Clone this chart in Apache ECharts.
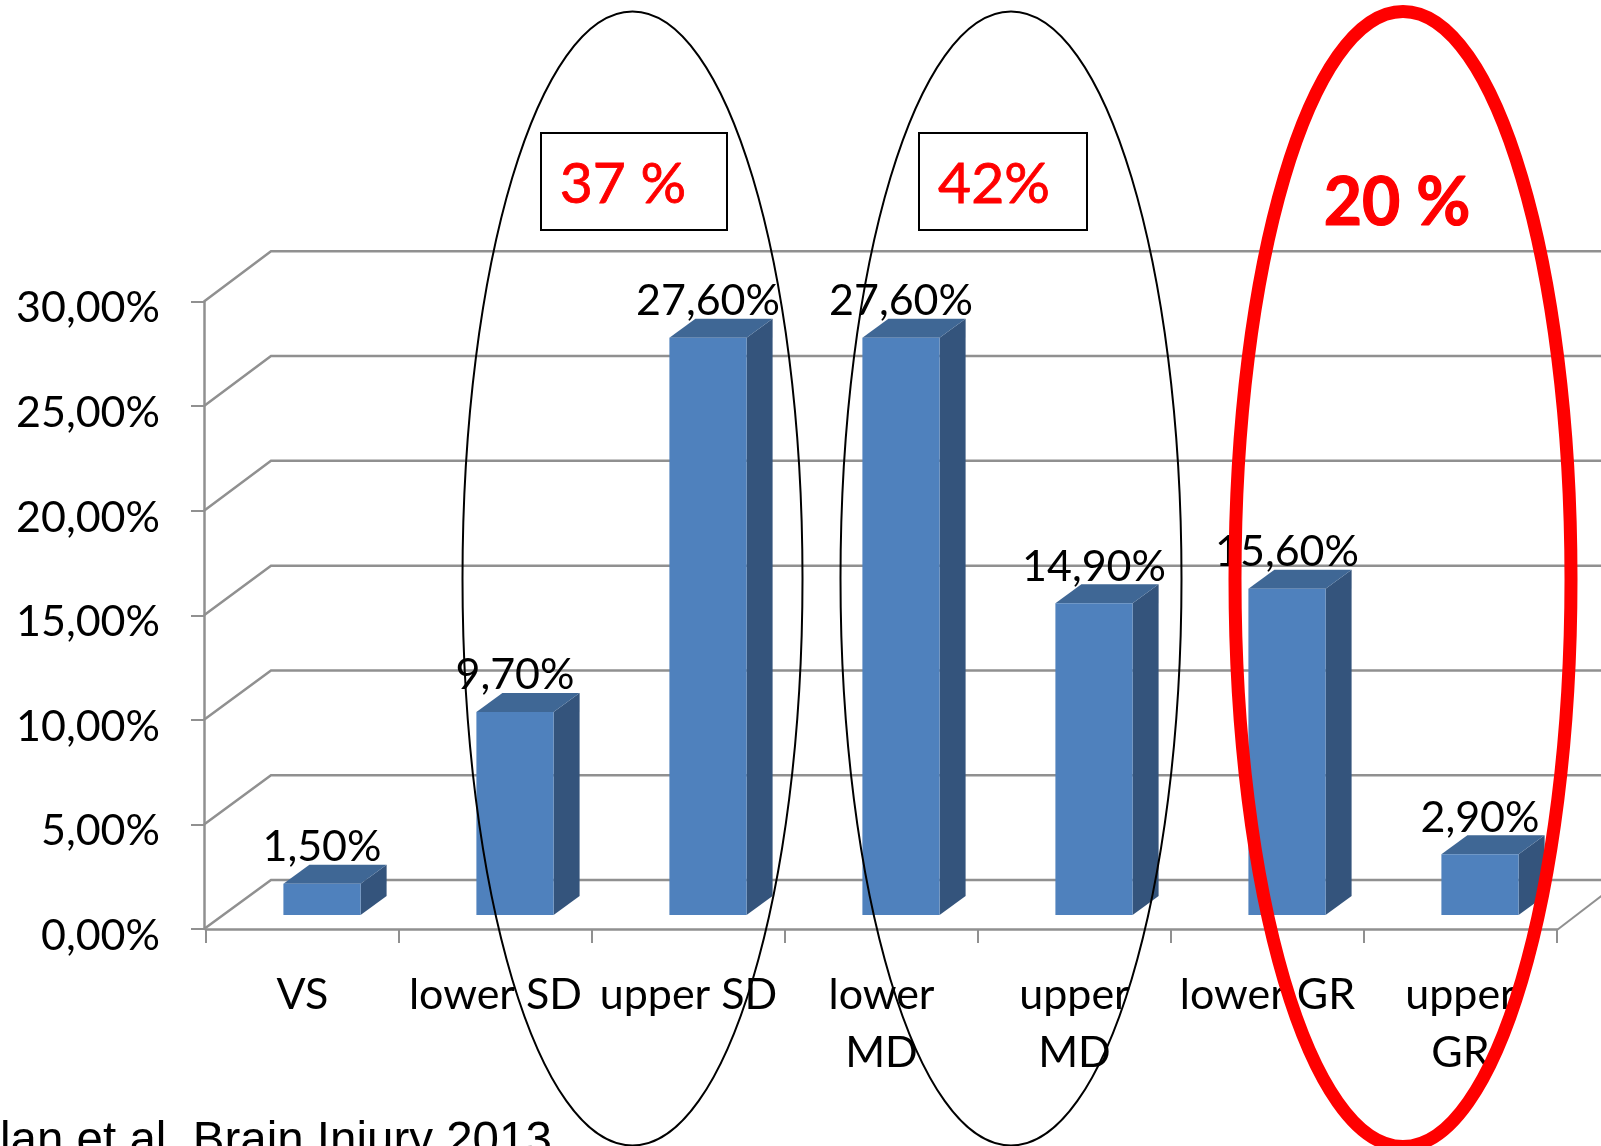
<!DOCTYPE html>
<html>
<head>
<meta charset="utf-8">
<style>html,body{margin:0;padding:0;background:#fff;overflow:hidden}#c{width:1601px;height:1146px}</style>
<script src="https://cdn.jsdelivr.net/npm/echarts@6/dist/echarts.min.js"></script>
</head>
<body>
<div id="c"></div>
<script>
const categories = ['VS', 'lower SD', 'upper SD', 'lower\nMD', 'upper\nMD', 'lower GR', 'upper\nGR'];
const seriesValues = [1.5, 9.7, 27.6, 27.6, 14.9, 15.6, 2.9];
const wallTicks = [0, 5, 10, 15, 20, 25, 30];
const calloutLabels = ['37 %', '42%', '20 %'];
const citation = 'lan et al. Brain Injury 2013';

const GREY = '#909090';
const fmt = v => v.toFixed(2).replace('.', ',') + '%';
const WALL_DX = 65, WALL_DY = -49, WALL_SKEW = 0.04;
const BAR_DX = 26, BAR_DY = -19, BAR_OX = 19.5, BAR_OY = -14;

const chart = echarts.init(document.getElementById('c'), null, {renderer: 'canvas'});
chart.setOption({
  animation: false,
  backgroundColor: '#fff',
  grid: {left: 206, right: 44, top: 301.5, bottom: 217, containLabel: false},
  xAxis: {
    type: 'category', data: categories, boundaryGap: true, offset: 1,
    axisLine: {show: true, lineStyle: {color: GREY, width: 2.5}},
    axisTick: {show: true, length: 14, lineStyle: {color: GREY, width: 2}},
    axisLabel: {interval: 0, color: '#000', fontFamily: 'Lato', fontSize: 43, lineHeight: 58, margin: 36, hideOverlap: false}
  },
  yAxis: {
    type: 'value', min: 0, max: 30, interval: 5, offset: 2,
    splitLine: {show: false},
    axisLine: {show: true, lineStyle: {color: GREY, width: 2.5}},
    axisTick: {show: true, length: 13, lineStyle: {color: GREY, width: 2}},
    axisLabel: {color: '#000', fontFamily: 'Lato', fontSize: 43, margin: 44, verticalAlign: 'top', lineHeight: 14, formatter: fmt}
  },
  series: [
    {
      type: 'custom', coordinateSystem: 'cartesian2d', z: 1, silent: true,
      encode: {x: 0, y: 1},
      data: wallTicks.map(v => [0, v]),
      renderItem(params, api) {
        const v = api.value(1);
        const a = api.coord([0, v]);
        const left = params.coordSys.x, right = left + params.coordSys.width;
        const by = a[1] + WALL_DY - v * WALL_SKEW;
        const children = [{
          type: 'polyline',
          shape: {points: [[left - 2, a[1]], [left + WALL_DX, by], [right + WALL_DX, by]]},
          style: {fill: null, stroke: GREY, lineWidth: 2.5}
        }];
        if (v === 0) children.push({
          type: 'line',
          shape: {x1: right, y1: a[1] + 1, x2: right + WALL_DX, y2: by},
          style: {stroke: GREY, lineWidth: 2}
        });
        return {type: 'group', children};
      }
    },
    {
      type: 'custom', coordinateSystem: 'cartesian2d', z: 3, silent: true,
      encode: {x: 0, y: 1},
      data: seriesValues.map((v, i) => [i, v]),
      renderItem(params, api) {
        const top = api.coord([api.value(0), api.value(1)]);
        const base = api.coord([api.value(0), 0]);
        const w = api.size([1, 0])[0] * 0.4;
        const xl = top[0] + BAR_OX - w / 2, xr = xl + w;
        const yt = top[1] + BAR_OY, yb = base[1] + BAR_OY;
        return {type: 'group', children: [
          {type: 'polygon', shape: {points: [[xr, yt], [xr + BAR_DX, yt + BAR_DY], [xr + BAR_DX, yb + BAR_DY], [xr, yb]]}, style: {fill: '#34547C'}},
          {type: 'polygon', shape: {points: [[xl, yt], [xl + BAR_DX, yt + BAR_DY], [xr + BAR_DX, yt + BAR_DY], [xr, yt]]}, style: {fill: '#3F6795'}},
          {type: 'rect', shape: {x: xl, y: yt, width: w, height: yb - yt}, style: {fill: '#4F81BD'}},
          {type: 'text', z2: 10, style: {
            x: (xl + xr) / 2, y: yt + BAR_DY + 4, text: fmt(api.value(1)),
            align: 'center', verticalAlign: 'bottom',
            fill: '#000', fontFamily: 'Lato', fontSize: 43
          }}
        ]};
      }
    }
  ],
  graphic: {elements: [
    {type: 'text', z: 90, style: {x: 0, y: 1166, text: citation, fill: '#000', font: '47.5px "Liberation Sans"', verticalAlign: 'bottom'}},
    {type: 'rect', z: 95, shape: {x: 541, y: 133, width: 186, height: 97}, style: {fill: '#fff', stroke: '#000', lineWidth: 2}},
    {type: 'rect', z: 95, shape: {x: 919, y: 133, width: 168, height: 97}, style: {fill: '#fff', stroke: '#000', lineWidth: 2}},
    {type: 'text', z: 96, style: {x: 623, y: 185, text: calloutLabels[0], align: 'center', verticalAlign: 'middle', fill: '#f00', stroke: '#f00', lineWidth: 0.8, fontFamily: 'Lato', fontSize: 57, shadowColor: 'rgba(0,0,0,0.35)', shadowBlur: 3, shadowOffsetX: 2, shadowOffsetY: 2}},
    {type: 'text', z: 96, style: {x: 994, y: 185, text: calloutLabels[1], align: 'center', verticalAlign: 'middle', fill: '#f00', stroke: '#f00', lineWidth: 0.8, fontFamily: 'Lato', fontSize: 57, shadowColor: 'rgba(0,0,0,0.35)', shadowBlur: 3, shadowOffsetX: 2, shadowOffsetY: 2}},
    {type: 'text', z: 96, style: {x: 1397, y: 204, text: calloutLabels[2], align: 'center', verticalAlign: 'middle', fill: '#f00', stroke: '#f00', lineWidth: 1.2, fontFamily: 'Lato', fontWeight: 'bold', fontSize: 66, shadowColor: 'rgba(0,0,0,0.35)', shadowBlur: 3, shadowOffsetX: 2, shadowOffsetY: 2}},
    {type: 'ellipse', z: 100, shape: {cx: 632.5, cy: 578.5, rx: 170, ry: 567}, style: {fill: null, stroke: '#000', lineWidth: 2}},
    {type: 'ellipse', z: 100, shape: {cx: 1011, cy: 578.5, rx: 170.5, ry: 567}, style: {fill: null, stroke: '#000', lineWidth: 2}},
    {type: 'ellipse', z: 100, shape: {cx: 1403, cy: 579, rx: 168, ry: 567.5}, style: {fill: null, stroke: '#f00', lineWidth: 13}}
  ]}
});
</script>
</body>
</html>
